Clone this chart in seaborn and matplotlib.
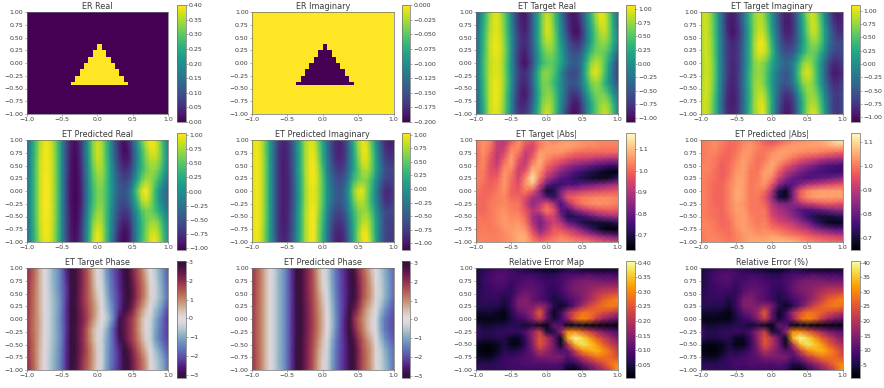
import numpy as np
import seaborn as sns
import matplotlib
matplotlib.use('Agg')
import matplotlib.pyplot as plt

# permittivity scatterer, 32 x 32 cells
er_mask = [
    '00000000000000000000000000000000', '00000000000000000000000000000000',
    '00000000000000000000000000000000', '00000000000000000000000000000000',
    '00000000000000000000000000000000', '00000000000000000000000000000000',
    '00000000000000000000000000000000', '00000000000000000000000000000000',
    '00000000000000000000000000000000', '00000000000000000000000000000000',
    '00000000000000001000000000000000', '00000000000000001000000000000000',
    '00000000000000011100000000000000', '00000000000000011100000000000000',
    '00000000000000111110000000000000', '00000000000000111110000000000000',
    '00000000000001111111000000000000', '00000000000001111111000000000000',
    '00000000000011111111100000000000', '00000000000011111111100000000000',
    '00000000000111111111110000000000', '00000000000111111111110000000000',
    '00000000001111111111111000000000', '00000000000000000000000000000000',
    '00000000000000000000000000000000', '00000000000000000000000000000000',
    '00000000000000000000000000000000', '00000000000000000000000000000000',
    '00000000000000000000000000000000', '00000000000000000000000000000000',
    '00000000000000000000000000000000', '00000000000000000000000000000000',
]

# fields: rows run y = 1 .. -1, columns x = -1 .. 1
target_real = [
    [-.45,-.1,.3,.7,.95,.95,.7,.35,-.15,-.6,-.9,-.95,-.7,-.25,.15,.6,.88,.75,.35,-.1,-.55,-.85,-.97,-.85,-.5,-.1,.35,.75,1.0,.95,.65,.2,-.3],
    [-.4,-.05,.35,.75,.97,.97,.75,.4,-.1,-.55,-.85,-.95,-.75,-.3,.15,.65,.95,.8,.4,0,-.45,-.8,-.97,-.92,-.6,-.2,.25,.65,.95,.97,.7,.25,-.3],
    [-.4,0,.4,.8,.97,.97,.78,.42,-.05,-.5,-.8,-.88,-.7,-.3,.15,.65,.95,.85,.5,.05,-.35,-.75,-.97,-1,-.75,-.3,.15,.5,.8,.9,.7,.3,-.15],
    [-.35,.05,.45,.85,1,1,.82,.48,0,-.45,-.75,-.82,-.68,-.3,.15,.6,.82,.8,.55,.15,-.2,-.55,-.75,-.78,-.6,-.25,.15,.5,.68,.72,.6,.3,-.1],
    [-.35,.05,.45,.85,1,1,.85,.5,0,-.5,-.8,-.9,-.72,-.4,.05,.45,.65,.68,.5,.25,-.1,-.4,-.55,-.55,-.35,.05,.4,.6,.62,.58,.4,.05,-.35],
    [-.3,.1,.5,.82,.95,.97,.8,.45,-.05,-.5,-.85,-1,-.8,-.45,0,.35,.5,.55,.45,.25,-.05,-.3,-.45,-.42,-.15,.3,.7,.87,.8,.55,.2,-.2,-.6],
    [-.3,.1,.5,.85,.97,.97,.82,.45,0,-.45,-.72,-.8,-.65,-.25,.25,.65,.72,.6,.4,.05,-.3,-.55,-.62,-.55,-.15,.4,.85,1,.85,.5,.1,-.3,-.65],
    [-.35,.05,.45,.85,1,1,.85,.5,0,-.5,-.78,-.85,-.68,-.25,.25,.6,.65,.5,.3,.05,-.25,-.45,-.52,-.45,-.15,.25,.6,.75,.65,.35,.05,-.25,-.5],
    [-.4,0,.45,.85,1,1,.82,.42,-.05,-.55,-.85,-.95,-.75,-.35,.15,.55,.7,.65,.4,.05,-.3,-.6,-.75,-.7,-.4,0,.4,.62,.65,.6,.4,.05,-.25],
    [-.4,-.05,.4,.85,1,1,.8,.4,-.1,-.6,-.85,-.85,-.65,-.25,.2,.65,.8,.75,.45,.05,-.35,-.7,-.92,-.92,-.6,-.2,.2,.5,.7,.8,.7,.35,-.1],
    [-.45,-.1,.35,.85,.97,.97,.75,.35,-.1,-.55,-.75,-.75,-.55,-.15,.3,.75,.95,.8,.4,-.05,-.5,-.85,-1,-.95,-.65,-.25,.2,.5,.75,.9,.8,.45,-.1],
]
target_imag = [
    [.85,.97,.8,.45,0,-.45,-.8,-.92,-.8,-.5,-.1,.35,.7,.85,.78,.45,.05,-.35,-.7,-.9,-.88,-.65,-.2,.3,.75,.95,.8,.45,-.05,-.5,-.85,-.95,-.85],
    [.85,.97,.82,.5,.03,-.45,-.85,-.95,-.85,-.55,-.12,.32,.7,.88,.85,.55,.12,-.3,-.68,-.92,-.92,-.7,-.28,.2,.65,.95,.9,.55,.05,-.4,-.75,-.88,-.85],
    [.8,.97,.82,.5,.03,-.42,-.82,-.98,-.9,-.65,-.2,.25,.7,.92,.92,.65,.2,-.22,-.6,-.88,-.9,-.7,-.3,.15,.6,.9,.9,.6,.15,-.28,-.6,-.78,-.8],
    [.8,.97,.85,.55,.08,-.38,-.72,-.85,-.82,-.58,-.15,.3,.78,1.02,1.05,.8,.35,-.15,-.5,-.72,-.75,-.62,-.3,.1,.48,.72,.75,.55,.15,-.25,-.5,-.6,-.6],
    [.8,.97,.85,.55,.08,-.38,-.72,-.82,-.78,-.55,-.12,.3,.75,1,1,.82,.42,-.02,-.35,-.55,-.55,-.42,-.12,.25,.5,.62,.55,.3,-.05,-.4,-.6,-.65,-.6],
    [.75,.95,.88,.6,.12,-.35,-.7,-.85,-.8,-.55,-.15,.28,.68,.8,.72,.55,.25,0,-.2,-.35,-.3,-.1,.3,.68,.82,.72,.45,.1,-.3,-.65,-.82,-.8,-.7],
    [.75,.95,.88,.6,.12,-.35,-.7,-.85,-.8,-.52,-.1,.35,.68,.75,.7,.45,.15,-.15,-.38,-.5,-.42,-.1,.45,.85,1,.85,.5,.1,-.35,-.72,-.95,-.92,-.8],
    [.8,.97,.88,.58,.1,-.4,-.75,-.88,-.8,-.5,-.08,.35,.72,.82,.72,.45,.12,-.2,-.4,-.5,-.42,-.15,.3,.68,.82,.75,.5,.15,-.25,-.6,-.8,-.8,-.7],
    [.8,.97,.85,.52,.05,-.42,-.8,-.92,-.85,-.55,-.12,.3,.72,.88,.88,.6,.2,-.22,-.55,-.75,-.72,-.5,-.05,.4,.7,.78,.68,.35,-.1,-.45,-.68,-.72,-.6],
    [.85,.97,.82,.48,0,-.48,-.85,-.92,-.85,-.55,-.12,.32,.75,.95,1,.7,.25,-.25,-.65,-.88,-.88,-.65,-.2,.3,.7,.85,.8,.5,.05,-.4,-.7,-.75,-.6],
    [.85,.97,.8,.45,0,-.45,-.82,-.88,-.82,-.52,-.1,.35,.72,.92,1.05,.7,.2,-.3,-.72,-.95,-.92,-.68,-.2,.35,.75,1,.95,.6,.1,-.35,-.7,-.75,-.6],
]
pred_real = [
    [-.35,0,.4,.78,.95,.95,.78,.45,-.05,-.55,-.85,-.95,-.8,-.4,.1,.65,.85,.75,.4,-.02,-.5,-.8,-.95,-.8,-.4,.05,.5,.85,1,.95,.7,.3,-.1],
    [-.35,0,.4,.8,.98,.98,.8,.45,-.05,-.55,-.88,-.98,-.82,-.4,.1,.65,.9,.78,.42,.02,-.45,-.78,-.98,-.92,-.55,-.1,.35,.7,.93,.95,.75,.35,-.1],
    [-.35,0,.42,.85,.98,.98,.82,.48,-.05,-.55,-.9,-1,-.85,-.42,.05,.6,.85,.78,.45,.05,-.4,-.72,-.9,-.88,-.55,-.12,.3,.6,.78,.82,.68,.35,-.05],
    [-.35,.02,.45,.85,.98,.98,.82,.48,-.05,-.55,-.9,-1,-.88,-.48,0,.5,.75,.75,.48,.1,-.3,-.58,-.75,-.72,-.45,-.05,.3,.55,.68,.68,.52,.25,-.1],
    [-.3,.05,.45,.85,1,1,.82,.48,-.05,-.58,-.92,-1,-.9,-.52,-.05,.42,.65,.68,.45,.12,-.22,-.48,-.6,-.55,-.25,.15,.55,.75,.72,.55,.3,0,-.25],
    [-.3,.05,.45,.85,1,1,.82,.48,-.05,-.58,-.92,-1,-.92,-.55,-.08,.35,.6,.62,.42,.15,-.2,-.45,-.5,-.4,0,.5,.9,1.03,.8,.4,.05,-.2,-.4],
    [-.3,.05,.45,.85,1,1,.82,.48,-.05,-.58,-.92,-1,-.92,-.55,-.08,.35,.6,.62,.42,.12,-.25,-.5,-.55,-.45,-.1,.3,.75,.9,.72,.4,.05,-.18,-.35],
    [-.3,.05,.45,.85,1,1,.82,.48,-.05,-.55,-.9,-1,-.88,-.5,0,.45,.7,.7,.42,.05,-.3,-.6,-.7,-.65,-.3,.05,.42,.6,.58,.45,.25,0,-.2],
    [-.35,.02,.45,.85,.98,.98,.82,.48,-.05,-.55,-.88,-1,-.85,-.42,.08,.6,.8,.75,.42,0,-.38,-.7,-.85,-.8,-.45,-.05,.3,.55,.7,.72,.55,.25,-.05],
    [-.35,0,.4,.8,.98,.98,.8,.45,-.05,-.55,-.88,-.98,-.82,-.4,.12,.7,.95,.85,.45,0,-.45,-.8,-.95,-.9,-.5,-.08,.3,.6,.85,.88,.72,.35,0],
    [-.35,0,.4,.78,.95,.95,.78,.45,-.05,-.55,-.85,-.95,-.8,-.38,.18,.75,1,.85,.42,-.05,-.5,-.88,-1,-.92,-.5,-.05,.35,.62,.92,1,.82,.42,-.05],
]
pred_imag = [
    [.9,1,.88,.55,.1,-.35,-.75,-.9,-.85,-.58,-.15,.3,.72,.9,.88,.55,.15,-.3,-.65,-.88,-.9,-.72,-.3,.25,.72,.95,.85,.45,-.02,-.5,-.85,-.95,-.95],
    [.9,1,.88,.55,.1,-.38,-.8,-.92,-.88,-.62,-.18,.25,.72,.92,.95,.62,.2,-.28,-.65,-.88,-.92,-.78,-.35,.15,.65,.95,.95,.55,.08,-.4,-.78,-.9,-.9],
    [.9,1,.9,.6,.1,-.38,-.8,-.95,-.9,-.62,-.2,.25,.72,.95,.98,.7,.25,-.2,-.58,-.85,-.88,-.75,-.35,.1,.55,.9,.92,.6,.15,-.3,-.65,-.78,-.8],
    [.9,1,.9,.6,.12,-.38,-.8,-.95,-.9,-.65,-.2,.25,.72,.95,1,.78,.38,-.15,-.5,-.7,-.75,-.62,-.28,.15,.45,.72,.78,.55,.15,-.25,-.55,-.65,-.65],
    [.9,1,.9,.6,.12,-.38,-.8,-.95,-.92,-.68,-.22,.22,.7,.95,1,.82,.45,-.05,-.38,-.58,-.6,-.48,-.1,.35,.55,.65,.6,.35,-.05,-.4,-.68,-.72,-.65],
    [.9,1,.9,.6,.12,-.38,-.8,-.95,-.92,-.68,-.25,.2,.68,.92,.95,.78,.45,0,-.3,-.5,-.55,-.35,.1,.65,.92,.95,.65,.3,-.15,-.55,-.85,-.88,-.75],
    [.9,1,.9,.6,.12,-.38,-.8,-.95,-.92,-.68,-.25,.2,.68,.92,.95,.78,.45,0,-.3,-.5,-.55,-.38,.02,.5,.78,.8,.6,.25,-.12,-.5,-.8,-.82,-.7],
    [.9,1,.9,.6,.12,-.38,-.8,-.95,-.9,-.65,-.2,.25,.72,.95,1,.75,.38,-.12,-.45,-.65,-.65,-.52,-.12,.3,.58,.68,.68,.42,.05,-.35,-.62,-.68,-.6],
    [.9,1,.9,.6,.1,-.38,-.8,-.95,-.9,-.62,-.2,.25,.72,.95,1,.7,.32,-.2,-.55,-.8,-.8,-.65,-.25,.2,.55,.78,.82,.58,.15,-.28,-.6,-.72,-.7],
    [.9,1,.88,.55,.1,-.38,-.8,-.92,-.88,-.62,-.18,.25,.72,.95,1,.68,.28,-.25,-.65,-.88,-.9,-.75,-.3,.2,.65,.95,.95,.6,.15,-.3,-.62,-.72,-.75],
    [.9,1,.88,.55,.1,-.35,-.75,-.9,-.85,-.58,-.15,.3,.72,.95,1,.65,.25,-.28,-.7,-.92,-.95,-.8,-.32,.2,.65,.95,1,.68,.18,-.3,-.62,-.72,-.75],
]
# |E| in hundredths, rows y = 1 .. -1 in 17 steps
target_abs = [
    [102,105,103,93,91,97,104,100,98,103,105,103,105,106,106,105,105,104,104,104,104],
    [101,105,102,92,92,102,105,97,94,102,106,106,107,107,106,105,104,104,103,103,103],
    [100,105,100,91,95,105,102,92,96,106,106,105,105,103,101,100,100,100,100,100,100],
    [100,104,98,91,99,107,98,91,100,108,104,101,99,96,94,93,92,90,89,88,88],
    [101,104,97,93,103,106,95,93,105,108,100,96,91,87,84,82,80,78,76,74,75],
    [102,103,97,96,105,103,93,98,110,105,96,90,84,80,77,74,71,69,67,65,65],
    [103,102,98,99,106,101,94,104,115,102,90,84,78,76,72,70,68,67,66,68,72],
    [103,101,99,101,106,100,96,105,110,95,80,74,74,76,76,79,80,82,84,86,88],
    [102,100,100,102,105,99,98,102,98,85,68,70,82,90,90,92,94,95,96,97,98],
    [101,100,101,103,104,100,100,96,88,85,78,72,84,98,100,102,103,104,104,104,103],
    [101,100,102,103,104,102,102,94,85,90,97,88,76,88,98,102,104,105,105,104,103],
    [101,100,102,104,105,103,102,97,90,94,103,97,78,76,84,90,94,97,98,99,98],
    [102,101,102,104,106,104,104,100,88,84,94,94,82,70,71,74,78,82,85,87,88],
    [102,102,102,104,106,105,106,102,90,82,88,94,90,80,76,70,68,68,68,69,72],
    [102,103,102,103,105,106,107,105,95,84,90,98,97,92,88,82,76,70,65,64,64],
    [103,103,103,103,104,106,108,108,100,92,96,100,102,100,97,94,90,86,82,80,78],
    [103,104,103,103,104,105,108,108,104,100,102,104,106,105,104,103,102,100,98,97,95],
]
pred_abs = [
    [100,101,102,101,99,99,101,102,100,97,94,96,99,101,102,103,104,105,107,111,113],
    [100,101,102,100,98,99,102,103,101,99,99,101,103,104,104,104,104,104,105,106,106],
    [100,101,101,99,98,100,103,103,100,100,102,104,104,103,102,101,101,100,99,98,97],
    [100,101,100,98,98,101,104,102,99,100,104,104,102,99,96,94,92,90,88,87,86],
    [101,101,100,97,99,102,104,101,99,102,105,101,96,92,88,85,82,79,77,76,75],
    [101,101,99,97,99,103,104,100,100,104,104,97,90,86,82,79,77,76,75,74,75],
    [101,100,99,97,100,104,104,100,100,104,101,92,85,80,78,77,78,79,80,82,84],
    [101,100,98,98,101,104,104,100,101,103,96,84,78,78,83,88,90,92,94,95,96],
    [101,100,98,98,101,105,104,100,101,99,89,72,68,82,96,101,103,104,104,104,104],
    [101,100,98,98,101,105,104,100,100,96,86,70,68,82,97,102,104,104,104,104,104],
    [101,100,98,98,101,104,103,100,100,98,90,84,82,84,88,92,94,96,97,96,95],
    [101,100,99,98,101,104,104,100,100,100,92,88,86,82,78,77,78,80,82,84,85],
    [101,100,99,98,100,103,104,101,100,100,94,90,88,84,80,74,71,70,70,71,73],
    [101,101,100,98,99,103,104,102,100,101,97,94,92,90,86,82,76,71,68,67,68],
    [101,101,100,99,99,102,104,103,101,102,100,99,97,95,92,90,85,82,80,78,78],
    [100,101,101,100,99,101,103,104,103,103,104,103,101,100,99,97,95,94,92,91,90],
    [100,101,101,101,100,101,103,105,105,105,106,107,107,106,104,102,101,100,99,99,98],
]
rel_error_pct = [
    [4,6,7,8,9,8,6,5,4,3,2,2,3,5,5,3,2,2,2,2,3],
    [5,7,9,10,10,9,8,8,8,7,6,6,8,9,9,9,10,9,9,9,8],
    [5,7,9,10,10,8,9,10,10,9,8,8,9,11,13,14,14,14,13,13,13],
    [5,7,8,9,9,7,10,11,11,10,8,7,9,12,14,15,16,17,18,18,18],
    [6,7,8,8,7,7,11,13,12,10,8,6,8,11,13,15,17,20,22,23,24],
    [6,7,7,7,5,8,14,15,12,10,8,5,6,9,11,14,18,22,26,28,30],
    [6,6,6,6,4,8,14,15,14,17,14,6,3,6,12,18,23,26,28,29,28],
    [4,4,4,3,2,6,11,13,17,26,12,3,8,18,24,28,28,26,24,22,20],
    [2,2,2,2,2,5,8,10,15,22,12,4,8,16,26,30,28,22,17,14,12],
    [6,4,4,5,5,6,6,4,5,3,2,12,10,2,3,3,2,2,2,2,2],
    [8,6,6,7,7,8,7,10,16,22,5,6,16,30,30,26,22,18,14,12,10],
    [7,5,5,6,6,3,3,8,16,25,20,12,3,34,40,37,32,26,22,18,14],
    [3,2,2,3,5,2,2,7,15,25,20,13,3,20,34,38,36,32,26,22,18],
    [2,1,1,3,6,5,6,9,13,20,17,13,10,12,22,30,33,34,31,27,22],
    [4,3,3,5,8,8,9,10,11,14,14,14,14,10,14,20,24,28,28,27,24],
    [6,6,6,7,8,9,9,10,10,10,10,11,10,6,7,12,16,20,24,28,30],
    [8,8,7,7,7,8,8,8,8,8,8,8,7,2,1,5,10,14,18,24,32],
]

x_labels = ['\u22121.0', '\u22120.5', '0.0', '0.5', '1.0']
y_labels = ['1.00', '0.75', '0.50', '0.25', '0.00', '\u22120.25', '\u22120.50', '\u22120.75', '\u22121.00']

mask = np.array([[int(c) for c in row] for row in er_mask], dtype=float)
t_re, t_im = np.array(target_real), np.array(target_imag)
p_re, p_im = np.array(pred_real), np.array(pred_imag)
err = np.array(rel_error_pct, dtype=float)

quarter = [-1, -.75, -.5, -.25, 0, .25, .5, .75, 1]
panels = [
    ('ER Real', mask * 0.4, 'viridis', 0, .4, [0, .05, .1, .15, .2, .25, .3, .35, .4]),
    ('ER Imaginary', mask * -0.2, 'viridis', -.2, 0, [-.2, -.175, -.15, -.125, -.1, -.075, -.05, -.025, 0]),
    ('ET Target Real', t_re, 'viridis', -1.08, 1.08, quarter),
    ('ET Target Imaginary', t_im, 'viridis', -1.09, 1.11, quarter),
    ('ET Predicted Real', p_re, 'viridis', -1.03, 1.03, quarter),
    ('ET Predicted Imaginary', p_im, 'viridis', -1.12, 1.03, quarter),
    ('ET Target |Abs|', np.array(target_abs) / 100, 'magma', .63, 1.175, [.7, .8, .9, 1.0, 1.1]),
    ('ET Predicted |Abs|', np.array(pred_abs) / 100, 'magma', .648, 1.138, [.7, .8, .9, 1.0, 1.1]),
    ('ET Target Phase', np.arctan2(t_im, t_re), 'twilight_shifted', -3.16, 3.05, [-3, -2, -1, 0, 1, 2, 3]),
    ('ET Predicted Phase', np.arctan2(p_im, p_re), 'twilight_shifted', -3.13, 3.12, [-3, -2, -1, 0, 1, 2, 3]),
    ('Relative Error Map', err / 100, 'inferno', .004, .406, [.05, .1, .15, .2, .25, .3, .35, .4]),
    ('Relative Error (%)', err, 'inferno', .4, 40.6, [5, 10, 15, 20, 25, 30, 35, 40]),
]

W, H = 884, 388
ax_left = [26.5, 252, 476, 701]
cb_left = [177, 401.5, 626, 851]
ax_top = [12, 140, 268]
cb_top = [5, 133, 261]
edge = '#6e6e6e'
text_c = '#3a3a3a'

sns.set_style('white')
fig = plt.figure(figsize=(W / 100, H / 100), dpi=100)

for i, (title, field, cmap, vmin, vmax, cticks) in enumerate(panels):
    r, c = divmod(i, 4)
    ax = fig.add_axes([ax_left[c] / W, 1 - (ax_top[r] + 102) / H, 141.5 / W, 102 / H])
    cax = fig.add_axes([cb_left[c] / W, 1 - (cb_top[r] + 117) / H, 8.5 / W, 117 / H])
    kw = {} if i < 2 else {'shading': 'gouraud'}
    sns.heatmap(field, ax=ax, cbar_ax=cax, cmap=cmap, vmin=vmin, vmax=vmax,
                xticklabels=False, yticklabels=False, **kw)
    # flat mesh spans n cells, gouraud mesh spans n-1
    nx = field.shape[1] - (0 if i < 2 else 1)
    ny = field.shape[0] - (0 if i < 2 else 1)
    ax.set_xlim(0, nx)
    ax.set_ylim(ny, 0)
    ax.set_xticks(np.linspace(0, nx, len(x_labels)))
    ax.set_xticklabels(x_labels, rotation=0)
    ax.set_yticks(np.linspace(0, ny, len(y_labels)))
    ax.set_yticklabels(y_labels, rotation=0)
    ax.tick_params(labelsize=4.5, length=1.5, width=.4, pad=1, color=edge, labelcolor=text_c,
                   bottom=True, left=True)
    for s in ax.spines.values():
        s.set_visible(True)
        s.set_color(edge)
        s.set_linewidth(.5)
    ax.set_title(title, fontsize=5.9, color=text_c, pad=2)

    cb = ax.collections[0].colorbar
    cb.set_ticks(cticks)
    cb.ax.tick_params(labelsize=4.5, length=1.5, width=.4, pad=1, color=edge, labelcolor=text_c)
    cb.outline.set_visible(True)
    cb.outline.set_edgecolor(edge)
    cb.outline.set_linewidth(.5)

fig.savefig('out.png', dpi=100)
